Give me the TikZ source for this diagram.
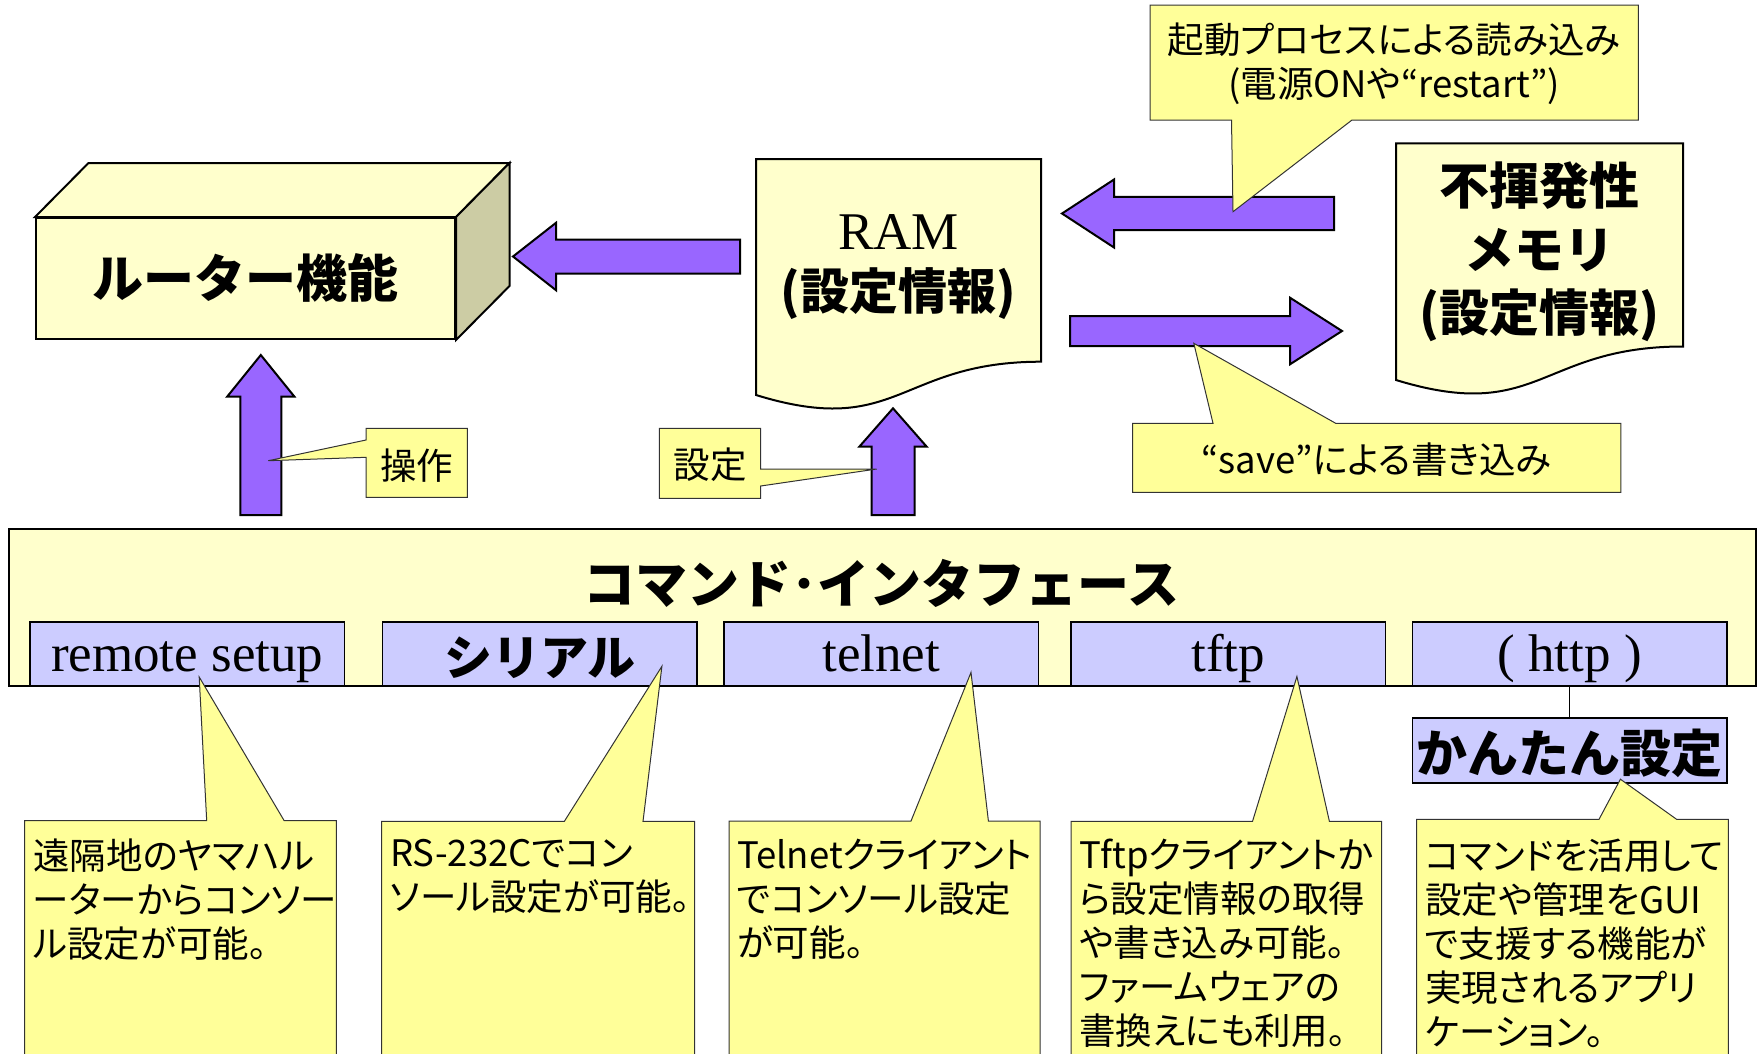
\documentclass[tikz,border=0pt]{standalone}
\usepackage{fontspec}
\usetikzlibrary{calc}
\setmainfont{Liberation Serif}
\newfontfamily\jp[RawFeature=+palt]{Noto Sans CJK JP}
\newfontfamily\jpn{Noto Sans CJK JP}
\definecolor{boxyellow}{HTML}{FFFFCC}
\definecolor{sideolive}{HTML}{CCCCA4}
\definecolor{callyellow}{HTML}{FFFF99}
\definecolor{arrowpurple}{HTML}{9966FF}
\definecolor{lavender}{HTML}{CCCCFF}
\tikzset{
  solidshape/.style={draw=black, line width=2pt, line join=miter},
  blockarrow/.style={draw=black, line width=2pt, fill=arrowpurple, line join=miter},
  callout/.style={draw=black!80, line width=1pt, fill=callyellow, line join=miter},
  calltext/.style={font=\jp\fontsize{36.5}{44}\selectfont, align=left, inner sep=0pt, anchor=north west},
  smalltext/.style={font=\jp\fontsize{36.5}{44}\selectfont, inner sep=0pt},
  bigjp/.style={font=\jpn\bfseries\fontsize{52}{62}\selectfont, inner sep=0pt},
  serifbig/.style={font=\fontsize{53}{60}\selectfont, inner sep=0pt},
  subbox/.style={draw=black, line width=1.5pt, fill=lavender, minimum width=314.5pt, minimum height=64pt, anchor=north west, inner sep=0pt},
}
\begin{document}
\begin{tikzpicture}[x=1pt,y=-1pt]
\useasboundingbox (0,0) rectangle (1761,1053);
\clip (0,0) rectangle (1761,1053);

% ---------- router cuboid ----------
\node[solidshape, fill=boxyellow, minimum width=419pt, minimum height=121pt, anchor=north west, inner sep=0pt] (router) at (35,217) {};
\filldraw[fill=boxyellow, solidshape] (router.north west) -- ++(53.5,-54) -- ($(router.north east)+(53.5,-54)$) -- (router.north east) -- cycle;
\filldraw[fill=sideolive, solidshape] (router.north east) -- ++(53.5,-54) -- ($(router.south east)+(53.5,-54)$) -- (router.south east) -- cycle;
\node[bigjp, font=\jpn\bfseries\fontsize{51}{60}\selectfont] (routertxt) at (245.5,278) {ルーター機能};

% ---------- RAM document ----------
\filldraw[fill=boxyellow, solidshape] (756,159) -- (1041,159) -- (1041,361.7) .. controls (898.5,361.7) and (898.5,438.9) .. (756,395) -- cycle;
\node[serifbig] (ram) at (898.5,232) {RAM};
\node[bigjp, font=\jpn\bfseries\fontsize{49}{60}\selectfont] (ramsub) at (898.5,294) {(設定情報)};

% ---------- non-volatile memory document ----------
\filldraw[fill=boxyellow, solidshape] (1396,143.3) -- (1683,143.3) -- (1683,346.5) .. controls (1539.5,346.5) and (1539.5,423.9) .. (1396,380) -- cycle;
\node[bigjp, align=center, font=\jpn\bfseries\fontsize{50}{63.5}\selectfont] (nvm) at (1539.5,252) {不揮発性\\メモリ\\(設定情報)};

% ---------- block arrows ----------
% RAM -> router (left)
\filldraw[blockarrow] (513,256.5) -- (556,222.8) -- (556,239.5) -- (740,239.5) -- (740,273.5) -- (556,273.5) -- (556,290.2) -- cycle;
% NVM -> RAM (left)
\filldraw[blockarrow] (1062,213.5) -- (1114,179.5) -- (1114,196.8) -- (1334,196.8) -- (1334,230.2) -- (1114,230.2) -- (1114,247.5) -- cycle;
% RAM -> NVM (right)
\filldraw[blockarrow] (1342,331) -- (1290,297.7) -- (1290,316) -- (1070,316) -- (1070,346) -- (1290,346) -- (1290,364.3) -- cycle;
% interface -> router (up)
\filldraw[blockarrow] (260.8,355) -- (294.3,396.5) -- (281.3,396.5) -- (281.3,515) -- (240.3,515) -- (240.3,396.5) -- (227.3,396.5) -- cycle;
% interface -> RAM (up)
\filldraw[blockarrow] (893,408.3) -- (926.7,446.7) -- (914.5,446.7) -- (914.5,515) -- (871.5,515) -- (871.5,446.7) -- (859.3,446.7) -- cycle;

% ---------- upper callouts ----------
\filldraw[callout] (366,428.3) -- (467.3,428.3) -- (467.3,497.3) -- (366,497.3) -- (366,457.3) -- (268.3,460.7) -- (366,440) -- cycle;
\node[smalltext] (sousa) at (416.7,466) {操作};

\filldraw[callout] (659.3,428.3) -- (760.7,428.3) -- (760.7,469) -- (876.7,469) -- (760.7,486) -- (760.7,498.3) -- (659.3,498.3) -- cycle;
\node[smalltext] (settei) at (710,465) {設定};

\filldraw[callout] (1150,5) -- (1638.4,5) -- (1638.4,120) -- (1352,120) -- (1233,211.7) -- (1231.5,120) -- (1150,120) -- cycle;
\node[smalltext, align=center] (boot) at (1394,64) {起動プロセスによる読み込み\\(電源ONや“restart”)};

\filldraw[callout] (1132.6,423.3) -- (1213,423.3) -- (1193.8,343.3) -- (1335.7,423.3) -- (1620.9,423.3) -- (1620.9,492.3) -- (1132.6,492.3) -- cycle;
\node[smalltext] (save) at (1376.8,460) {“save”による書き込み};

% ---------- command interface ----------
\node[solidshape, fill=boxyellow, minimum width=1747pt, minimum height=157.3pt, anchor=north west, inner sep=0pt] (cmd) at (8,527.7) {};
\node[bigjp] (cmdtitle) at (881.5,583) {コマンド･インタフェース};

\node[subbox] (s1) at (29.2,621) {};
\node[subbox] (s2) at (381.9,621) {};
\node[subbox] (s3) at (723.3,621) {};
\node[subbox] (s4) at (1070.3,621) {};
\node[subbox] (s5) at (1411.7,621) {};
\node[serifbig, anchor=base] (t1) at ($(s1.north)+(0,50)$) {remote setup};
\node[bigjp, font=\jpn\bfseries\fontsize{48}{60}\selectfont] (t2) at ($(s2.north)+(0,37)$) {シリアル};
\node[serifbig, anchor=base] (t3) at ($(s3.north)+(0,50)$) {telnet};
\node[serifbig, anchor=base] (t4) at ($(s4.north)+(0,50)$) {tftp};
\node[serifbig, anchor=base] (t5) at ($(s5.north)+(0,50)$) {( http )};

\node[draw=black, line width=1.5pt, fill=lavender, minimum width=314.5pt, minimum height=64.7pt, anchor=north west, inner sep=0pt] (kantan) at (1411.7,717.3) {};
\node[bigjp, font=\jpn\bfseries\fontsize{51}{60}\selectfont] (kantantxt) at ($(kantan.center)+(0,3)$) {かんたん設定};
\draw[line width=1.5pt] (s5.south) -- (kantan.north);

% ---------- lower callouts ----------
\filldraw[callout] (24.7,1080) -- (24.7,820.7) -- (206.7,820.7) -- (199.2,677) -- (284.2,820.7) -- (336.4,820.7) -- (336.4,1080);
\node[calltext] (c1) at (33,839) {遠隔地のヤマハル\\ーターからコンソー\\ル設定が可能。};

\filldraw[callout] (381.7,1080) -- (381.7,821.4) -- (564.3,821.4) -- (661.9,666.3) -- (643,821.4) -- (694.6,821.4) -- (694.6,1080);
\node[calltext] (c2) at (390,839) {RS-232Cでコン\\ソール設定が可能。};

\filldraw[callout] (729,1080) -- (729,821) -- (911,821) -- (971,672.4) -- (988.4,821) -- (1040,821) -- (1040,1080);
\node[calltext] (c3) at (737,839) {Telnetクライアント\\でコンソール設定\\が可能。};

\filldraw[callout] (1071,1080) -- (1071,821.4) -- (1252.5,821.4) -- (1296.9,676.5) -- (1329.4,821.4) -- (1381.7,821.4) -- (1381.7,1080);
\node[calltext] (c4) at (1079,839) {Tftpクライアントか\\ら設定情報の取得\\や書き込み可能。\\ファームウェアの\\書換えにも利用。};

\filldraw[callout] (1416.5,1080) -- (1416.5,819.3) -- (1599,819.3) -- (1620.4,779.2) -- (1676.6,819.3) -- (1728.3,819.3) -- (1728.3,1080);
\node[calltext] (c5) at (1425,839) {コマンドを活用して\\設定や管理をGUI\\で支援する機能が\\実現されるアプリ\\ケーション。};
\end{tikzpicture}
\end{document}
